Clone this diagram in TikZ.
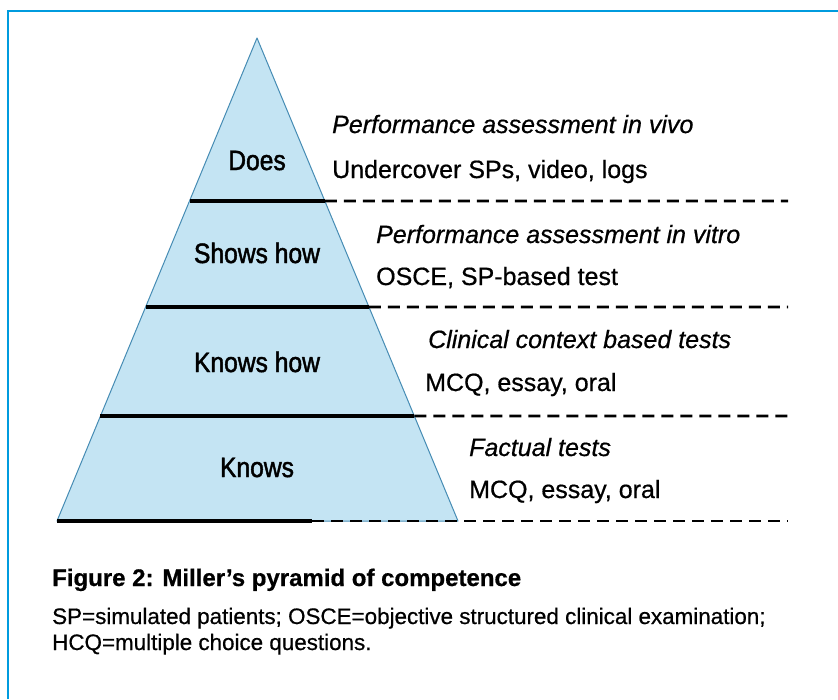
\documentclass[tikz,border=0pt]{standalone}
\usepackage{fontspec}
\setmainfont{Liberation Sans}[FakeBold=0.6]
\newfontfamily\tierfont{Liberation Sans}[FakeStretch=0.88,FakeBold=1.6]
\newfontfamily\notefont{Liberation Sans}[FakeBold=0.6]
\usetikzlibrary{calc}
\definecolor{frameblue}{RGB}{0,155,222}
\definecolor{pyrfill}{RGB}{196,228,243}
\definecolor{pyredge}{RGB}{70,140,180}
\begin{document}
\begin{tikzpicture}[x=1pt,y=-1pt,
  tier/.style={font=\tierfont\fontsize{28}{30}\selectfont, anchor=base, inner sep=0pt},
  note/.style={font=\notefont\fontsize{25}{28}\selectfont, anchor=base west, inner sep=0pt},
  captext/.style={font=\notefont\fontsize{22.4}{26}\selectfont, anchor=base west, inner sep=0pt},
  level/.style={line width=3.2pt, black},
  guide/.style={line width=2.6pt, black, dash pattern=on 12pt off 7pt}]
\useasboundingbox (0,0) rectangle (838,699);
\fill[white] (0,0) rectangle (838,699);
% frame
\draw[frameblue, line width=2.5pt] (8,699) -- (8,11) -- (838,11);
% pyramid
\coordinate (apex) at (257,38);
\coordinate (bl) at (57,521);
\coordinate (br) at (458,521);
\fill[pyrfill] (apex) -- (bl) -- (br) -- cycle;
\draw[pyredge, line width=1pt, line join=round] (apex) -- (bl) -- (br) -- cycle;
% tier boundaries
\coordinate (l1) at ($(apex)!0.3375!(bl)$);
\coordinate (r1) at ($(apex)!0.3375!(br)$);
\coordinate (l2) at ($(apex)!0.557!(bl)$);
\coordinate (r2) at ($(apex)!0.557!(br)$);
\coordinate (l3) at ($(apex)!0.7826!(bl)$);
\coordinate (r3) at ($(apex)!0.7826!(br)$);
\coordinate (m4) at (312,521);
\coordinate (e1) at (788,201);
\coordinate (e2) at (788,307);
\coordinate (e3) at (788,416);
\coordinate (e4) at (788,521);
\draw[level] (l1) -- (r1);
\draw[level] (l2) -- (r2);
\draw[level] (l3) -- (r3);
\draw[level] (bl) -- (m4);
\draw[guide] (r1) -- (e1);
\draw[guide] (r2) -- (e2);
\draw[guide] (r3) -- (e3);
\draw[guide] (m4) -- (e4);
% tier names
\node[tier] (does) at (257,170) {Does};
\node[tier] (shows) at (257,263) {Shows how};
\node[tier] (knowshow) at (257,372) {Knows how};
\node[tier] (knows) at (257,477) {Knows};
% assessment methods
\node[note] (a1) at (332,133) {\itshape Performance assessment in vivo};
\node[note] (b1) at (332,178) {Undercover SPs, video, logs};
\node[note] (a2) at (376,243) {\itshape Performance assessment in vitro};
\node[note] (b2) at (376,285) {OSCE, SP-based test};
\node[note] (a3) at (428,348) {\itshape Clinical context based tests};
\node[note] (b3) at (425,391) {MCQ, essay, oral};
\node[note] (a4) at (469,456) {\itshape Factual tests};
\node[note] (b4) at (469,498) {MCQ, essay, oral};
% caption
\node[captext, font=\bfseries\fontsize{24}{26}\selectfont] (title) at (52,586) {Figure 2: Miller's pyramid of competence};
\node[captext] (c1) at (52,624) {SP=simulated patients; OSCE=objective structured clinical examination;};
\node[captext] (c2) at (52,650) {HCQ=multiple choice questions.};
\end{tikzpicture}
\end{document}
